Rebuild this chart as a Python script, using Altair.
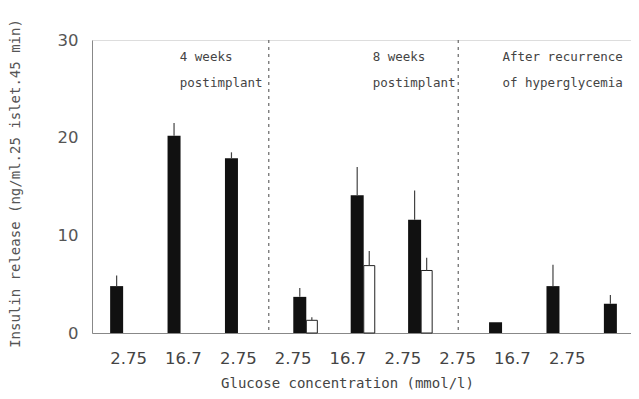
import altair as alt
import pandas as pd
import json

# ---- data ----
group_lines = [["4 weeks", "postimplant"], ["8 weeks", "postimplant"], ["After recurrence", "of hyperglycemia"]]
glucose = ["2.75", "16.7", "2.75", "2.75", "16.7", "2.75", "2.75", "16.7", "2.75"]
black_mean = [4.8, 20.2, 17.9, 3.7, 14.1, 11.6, 1.1, 4.8, 3.0]
black_err = [1.1, 1.3, 0.6, 0.9, 2.9, 3.0, 0.0, 2.2, 0.9]
white_mean = [None, None, None, 1.3, 6.9, 6.4, None, None, None]
white_err = [None, None, None, 0.3, 1.5, 1.3, None, None, None]

# ---- layout helpers (slot units) ----
GROUP_STEP = 3.3
def slot(k):
    return (k // 3) * GROUP_STEP + (k % 3)

rows = []
for k in range(9):
    has_white = white_mean[k] is not None
    bpos = slot(k) - (0.11 if has_white else 0.0)
    rows.append(dict(series="black", pos=bpos, value=black_mean[k], top=black_mean[k] + black_err[k]))
    if has_white:
        rows.append(dict(series="white", pos=slot(k) + 0.1, value=white_mean[k], top=white_mean[k] + white_err[k]))
df = pd.DataFrame(rows)

bounds = pd.DataFrame({"x": [(slot(2) + slot(3)) / 2, (slot(5) + slot(6)) / 2]})

ann_rows = []
ann_left = [1.1, 4.46, 6.72]
for g, lines in enumerate(group_lines):
    for j, t in enumerate(lines):
        ann_rows.append(dict(x=ann_left[g], y=28.25 - j * 2.65, text=t))
ann = pd.DataFrame(ann_rows)

LBL0, LBLSTEP = 0.2, 0.955
label_pos = [LBL0 + LBLSTEP * i for i in range(len(glucose))]
label_expr = f"{json.dumps(glucose)}[round((datum.value - {LBL0}) / {LBLSTEP})]"

W, H = 539, 293
xscale = alt.Scale(domain=[-0.342, 8.872], nice=False, zero=False)
yscale = alt.Scale(domain=[0, 30], nice=False)

MONO = "DejaVu Sans Mono"
xaxis = alt.Axis(values=label_pos, labelExpr=label_expr, ticks=False, grid=False,
                 labelFontSize=16.5, labelColor="#444", labelPadding=17,
                 domainColor="#888", title="Glucose concentration (mmol/l)",
                 titleFont=MONO, titleFontSize=14, titleFontWeight="normal", titleColor="#444",
                 titleX=255, titleY=43, titleBaseline="top", labelFlush=False)
yaxis = alt.Axis(values=[0, 10, 20, 30], ticks=False, grid=False, labelFontSize=16.5,
                 labelColor="#555", labelPadding=14, domainColor="#888",
                 title="Insulin release (ng/ml.25 islet.45 min)", titleFont=MONO, titleFontSize=14,
                 titleFontWeight="normal", titleColor="#555", titleX=-70, titleY=143)

base = alt.Chart(df)
black = base.transform_filter("datum.series == 'black'").mark_bar(size=13, color="#111").encode(
    x=alt.X("pos:Q", scale=xscale, axis=xaxis),
    y=alt.Y("value:Q", scale=yscale, axis=yaxis),
)
white = base.transform_filter("datum.series == 'white'").mark_bar(
    size=11, fill="white", stroke="#222", strokeWidth=1).encode(
    x=alt.X("pos:Q", scale=xscale),
    y=alt.Y("value:Q", scale=yscale),
)
err = base.transform_filter("datum.top > datum.value").mark_rule(color="#444", strokeWidth=1.2).encode(
    x=alt.X("pos:Q", scale=xscale),
    y=alt.Y("value:Q", scale=yscale),
    y2="top:Q",
)
divs = alt.Chart(bounds).mark_rule(color="#666", strokeDash=[3, 4], strokeWidth=1.2).encode(
    x=alt.X("x:Q", scale=xscale),
)
texts = alt.Chart(ann).mark_text(align="left", baseline="middle", font=MONO, fontSize=12.5,
                                 color="#444").encode(
    x=alt.X("x:Q", scale=xscale),
    y=alt.Y("y:Q", scale=yscale),
    text="text:N",
)

chart = alt.layer(divs, black, white, err, texts).properties(
    width=W, height=H,
    autosize=alt.AutoSizeParams(type="none"),
    padding={"left": 84, "top": 32, "right": 0, "bottom": 58},
).configure_view(stroke="#999", strokeWidth=1).configure(font="DejaVu Sans", background="white")

chart.save("out.html", embed_options={"renderer": "svg", "actions": False})
